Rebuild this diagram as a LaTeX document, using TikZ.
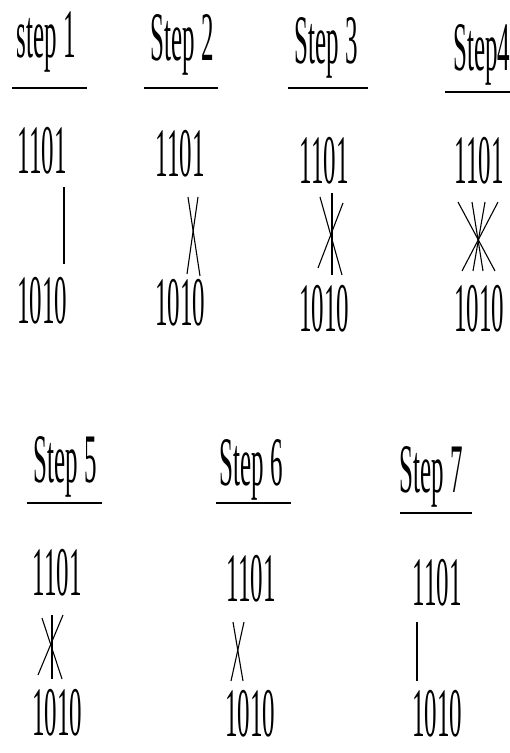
\documentclass[tikz,border=0pt]{standalone}
\usepackage{fontspec}
\setmainfont{Liberation Serif}
\usepackage{tikz}
\usetikzlibrary{positioning}

\begin{document}
\begin{tikzpicture}[x=1pt, y=-1pt,
  every node/.style={inner sep=0pt, yscale=2.78, font=\fontsize{25}{30}\selectfont},
  stepname/.style={anchor=base},
  num/.style={anchor=south},
  rule/.style={line width=2.6pt},
  link/.style={line width=1.1pt}]
  \useasboundingbox (0,0) rectangle (510,753);
  \foreach \i/\lbl/\tx/\ty/\ax/\ay/\bx/\by in {1/step 1/46/57/42/175/42/325,
      2/Step 2/182/60/180/178/180/327, 3/Step 3/326/63/324/185/324/333,
      4/Step4/482/70/479/185/479/333, 5/Step 5/65/482/57/597/57/737,
      6/Step 6/251/485/251/603/250/738, 7/Step 7/431/492/437/607/437/738} {
    \node[stepname] (t\i) at (\tx,\ty) {\lbl};
    \node[num] (a\i) at (\ax,\ay) {1101};
    \node[num] (b\i) at (\bx,\by) {1010};
  }
  \foreach \y/\xa/\xb in {88/12/87, 88/144/218, 88/288/368, 92/445/512,
      503/27/102, 503/216/291, 513/400/472}
    \draw[rule] (\xa,\y) -- (\xb,\y);
  % step 1
  \draw[link] ([shift={(22,12)}]a1.south) -- ([shift={(22,-13)}]b1.north);
  % step 2
  \draw[link] ([shift={(8,19)}]a2.south) -- ([shift={(20,-3)}]b2.north);
  \draw[link] ([shift={(18,19)}]a2.south) -- ([shift={(7,-5)}]b2.north);
  % step 3
  \draw[link] ([shift={(8,8)}]a3.south) -- ([shift={(8,-10)}]b3.north);
  \draw[link] ([shift={(-4,12)}]a3.south) -- ([shift={(18,-10)}]b3.north);
  \draw[link] ([shift={(19,18)}]a3.south) -- ([shift={(-6,-17)}]b3.north);
  % step 4
  \draw[link] ([shift={(-21,17)}]a4.south) -- ([shift={(16,-14)}]b4.north);
  \draw[link] ([shift={(-7,17)}]a4.south) -- ([shift={(4,-14)}]b4.north);
  \draw[link] ([shift={(6,17)}]a4.south) -- ([shift={(-6,-14)}]b4.north);
  \draw[link] ([shift={(19,17)}]a4.south) -- ([shift={(-17,-14)}]b4.north);
  % step 5
  \draw[link] ([shift={(-5,18)}]a5.south) -- ([shift={(-5,-10)}]b5.north);
  \draw[link] ([shift={(-15,21)}]a5.south) -- ([shift={(5,-10)}]b5.north);
  \draw[link] ([shift={(6,18)}]a5.south) -- ([shift={(-19,-14)}]b5.north);
  % step 6
  \draw[link] ([shift={(-18,19)}]a6.south) -- ([shift={(-7,-9)}]b6.north);
  \draw[link] ([shift={(-7,19)}]a6.south) -- ([shift={(-19,-9)}]b6.north);
  % step 7
  \draw[link] ([shift={(-20,15)}]a7.south) -- ([shift={(-20,-9)}]b7.north);
\end{tikzpicture}
\end{document}
